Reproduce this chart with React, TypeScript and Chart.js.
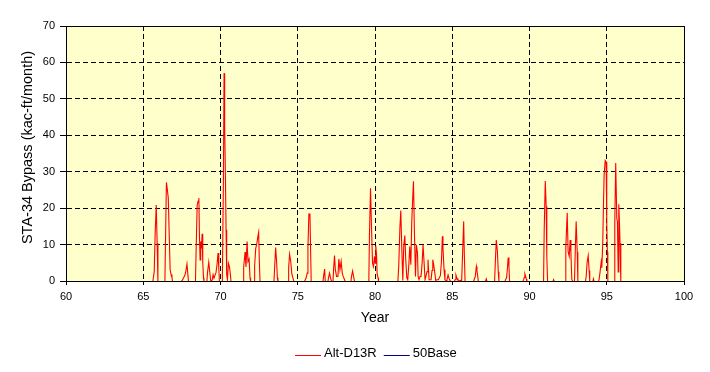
import { useEffect, useRef } from 'react';
import { Chart, registerables } from 'chart.js';

Chart.register(...registerables);

// ---- Data ----
const xTickValues = [60, 65, 70, 75, 80, 85, 90, 95, 100];
const yTickValues = [0, 10, 20, 30, 40, 50, 60, 70];

const seriesNames = ['Alt-D13R', '50Base'];
const seriesColors = ['#FF0000', '#000080'];
const xTitle = 'Year';
const yTitle = 'STA-34 Bypass (kac-ft/month)';

const altYears = [
  65.00, 65.62, 65.71, 65.77, 65.84, 65.90, 65.95,
  66.40, 66.45, 66.50, 66.55, 66.62, 66.68, 66.74, 66.80, 66.86, 66.90,
  67.47, 67.55, 67.62, 67.70, 67.76, 67.83, 67.88, 67.93,
  68.38, 68.43, 68.49, 68.55, 68.60, 68.64, 68.68, 68.72, 68.77, 68.81, 68.85, 68.90, 68.93,
  69.12, 69.16, 69.24, 69.31, 69.37, 69.46, 69.52, 69.58, 69.65, 69.71, 69.78, 69.84, 69.89, 69.93,
  70.12, 70.19, 70.23, 70.27, 70.32, 70.36, 70.40, 70.45, 70.51, 70.58, 70.64, 70.68,
  71.46, 71.50, 71.59, 71.65, 71.72, 71.78, 71.85, 71.91, 71.95,
  72.17, 72.21, 72.28, 72.34, 72.41, 72.47, 72.51, 72.56,
  73.46, 73.51, 73.57, 73.63, 73.68, 73.72,
  74.37, 74.41, 74.47, 74.54, 74.62, 74.69, 74.75,
  75.44, 75.55, 75.61, 75.66, 75.72, 75.79, 75.83, 75.87,
  76.63, 76.67, 76.74, 76.78, 76.95, 76.99, 77.06, 77.12, 77.19,
  77.28, 77.32, 77.38, 77.43, 77.51, 77.60, 77.66, 77.73, 77.81, 77.88, 77.94, 78.01, 78.07,
  78.44, 78.48, 78.55, 78.61, 78.68,
  79.60, 79.64, 79.71, 79.77, 79.84, 79.90, 79.97, 80.01, 80.05, 80.10, 80.14, 80.20, 80.23,
  81.48, 81.54, 81.61, 81.67, 81.73, 81.80, 81.86, 81.93, 81.99, 82.06,
  82.12, 82.19, 82.25, 82.32, 82.38, 82.45, 82.49, 82.55, 82.62, 82.68,
  82.75, 82.79, 82.85, 82.92, 82.98, 83.05, 83.11, 83.18, 83.24, 83.30,
  83.37, 83.43, 83.50, 83.56, 83.63, 83.69, 83.74, 83.80, 83.86, 83.93,
  84.01, 84.10, 84.17, 84.23, 84.30, 84.36, 84.40, 84.47, 84.53, 84.60,
  84.66, 84.73, 84.79, 84.86, 84.92,
  85.14, 85.18, 85.24, 85.31, 85.37, 85.46, 85.55, 85.61, 85.67, 85.74, 85.78, 85.83,
  86.39, 86.43, 86.49, 86.56, 86.60, 86.65, 86.69,
  87.15, 87.20, 87.25,
  87.74, 87.79, 87.85, 87.92, 87.98, 88.02,
  88.41, 88.45, 88.52, 88.58, 88.62, 88.67, 88.71,
  89.57, 89.62, 89.66, 89.70, 89.75, 89.79, 89.83,
  90.91, 90.95, 91.02, 91.08, 91.12, 91.17,
  91.52, 91.56, 91.60,
  92.31, 92.35, 92.44, 92.50, 92.57, 92.63, 92.68, 92.74, 92.81,
  92.91, 92.96, 93.02, 93.09, 93.13,
  93.62, 93.67, 93.73, 93.80, 93.86, 93.90,
  94.10, 94.14, 94.18,
  94.47, 94.51, 94.57, 94.64, 94.68, 94.74, 94.79, 94.83, 94.90, 94.96, 95.00, 95.04, 95.07,
  95.48, 95.52, 95.58, 95.65, 95.69, 95.74, 95.78, 95.82, 95.86, 95.91, 96.00,
];

const altValues = [
  0, 0, 2.7, 13, 21, 10.5, 0,
  0, 13.7, 27.2, 25.6, 22.9, 12.9, 3.3, 1.9, 1.0, 0,
  0, 0.5, 1.1, 1.8, 2.9, 4.8, 2.3, 0,
  0, 10.1, 21.0, 22.1, 22.9, 11.9, 5.9, 11.0, 9.1, 13.1, 5.5, 1.0, 0,
  0, 2.5, 5.3, 2.4, 0, 0.4, 1.9, 0.9, 1.8, 2.5, 4.8, 7.8, 3.7, 0,
  0, 28.4, 57.2, 42.5, 28.4, 14.2, 1.9, 0.5, 5.0, 4.0, 1.9, 0,
  0, 4.0, 8.1, 4.0, 11.0, 5.5, 6.2, 1.0, 0,
  0, 4.4, 9.1, 10.1, 12.1, 13.5, 6.0, 0,
  0, 4.4, 9.3, 5.5, 1.0, 0,
  0, 3.7, 7.5, 5.7, 2.0, 0.9, 0,
  0, 1.1, 2.3, 9.1, 18.5, 18.5, 9.1, 0,
  0, 1.4, 3.4, 0, 0, 1.0, 2.3, 1.0, 0,
  0, 3.4, 7.1, 3.4, 1.4, 1.4, 6.2, 3.2, 5.5, 2.3, 1.4, 0.7, 0,
  0, 1.4, 2.9, 1.4, 0,
  0, 12.5, 25.6, 15.6, 5.0, 4.1, 6.9, 5.0, 9.8, 7.3, 2.0, 1.0, 0,
  0, 4.6, 14.6, 19.5, 9.6, 0.3, 9.6, 12.6, 6.0, 1.0,
  0.5, 4.6, 9.6, 4.6, 16.5, 23.8, 27.5, 13.7, 1.4, 10.1,
  7.8, 1.4, 0.5, 1.4, 1.4, 5.0, 10.1, 5.0, 0.5, 0.5,
  2.7, 6.0, 0.5, 0.5, 0.5, 3.0, 6.0, 4.6, 2.7, 0.3,
  0.5, 0.5, 1.1, 1.6, 5.5, 12.4, 9.1, 3.2, 0.5, 0.2,
  0.5, 1.8, 0.9, 0.2, 0,
  0, 0.5, 1.8, 0.8, 0.3, 0.2, 0.3, 0.2, 7.8, 16.5, 7.8, 0,
  0, 0.7, 1.4, 4.1, 3.0, 1.4, 0,
  0, 0.7, 0,
  0, 5.5, 11.4, 8.4, 2.7, 0,
  0, 0.5, 1.1, 4.1, 6.6, 4.1, 0,
  0, 0.5, 1.1, 2.1, 1.4, 0.7, 0,
  0, 13.7, 27.6, 20.6, 6.9, 0,
  0, 0.5, 0,
  0, 9.3, 18.9, 8.2, 6.9, 11.4, 7.8, 0.5, 0,
  0, 8.0, 16.5, 8.0, 0,
  0, 1.4, 5.3, 7.1, 3.0, 0,
  0, 0.7, 0,
  0, 0.7, 2.7, 5.3, 3.8, 10.5, 21.5, 29.3, 33.2, 32.8, 16.5, 8.2, 0,
  0, 16.0, 32.5, 17.4, 16.5, 2.6, 21.2, 16.5, 10.5, 0, 0,
];

const baseYears = [65.0, 96.0];
const baseValues = [0, 0];

const FONT = '"Liberation Sans", Arial, sans-serif';

const bgPlugin = {
  id: 'plotBg',
  beforeDraw(chart: any) {
    const { ctx, chartArea } = chart;
    const { left, top, right, bottom } = chartArea;
    ctx.save();
    ctx.fillStyle = '#FFFFCC';
    ctx.fillRect(left, top, right - left, bottom - top);
    ctx.restore();
  },
};

// Shift series by half a pixel so zero values sit exactly on the axis row,
// then redraw the plot frame on top (the axis hides the zero line, as in Excel).
const framePlugin = {
  id: 'plotFrame',
  beforeDatasetsDraw(chart: any) {
    chart.ctx.save();
    chart.ctx.translate(0, 0.5);
  },
  afterDatasetsDraw(chart: any) {
    const { ctx, chartArea } = chart;
    ctx.restore();
    const { left, top, right, bottom } = chartArea;
    ctx.save();
    ctx.strokeStyle = '#000';
    ctx.lineWidth = 1;
    ctx.setLineDash([]);
    ctx.strokeRect(left + 0.5, top + 0.5, right - left, bottom - top);
    ctx.restore();
  },
};

const textPlugin = {
  id: 'extraText',
  afterDraw(chart: any) {
    const { ctx } = chart;
    ctx.save();
    ctx.fillStyle = '#000';
    ctx.font = `14.5px ${FONT}`;
    ctx.textAlign = 'center';
    ctx.textBaseline = 'middle';
    ctx.translate(27.5, 147.5);
    ctx.rotate(-Math.PI / 2);
    ctx.fillText(yTitle, 0, 0);
    ctx.restore();

    ctx.save();
    ctx.font = `13px ${FONT}`;
    ctx.textBaseline = 'middle';
    ctx.textAlign = 'left';
    const lineLen = 26;
    const gap = 3;
    const spacing = 7;
    const widths = seriesNames.map((n) => ctx.measureText(n).width);
    let total = 0;
    widths.forEach((w, i) => {
      total += lineLen + gap + w + (i < widths.length - 1 ? spacing : 0);
    });
    let x = Math.round(375.5 - total / 2);
    const yLine = 355.5;
    const yText = 353;
    seriesNames.forEach((n, i) => {
      ctx.strokeStyle = seriesColors[i];
      ctx.lineWidth = 1;
      ctx.beginPath();
      ctx.moveTo(x, yLine);
      ctx.lineTo(x + lineLen, yLine);
      ctx.stroke();
      x += lineLen + gap;
      ctx.fillStyle = '#000';
      ctx.fillText(n, x, yText);
      x += widths[i] + spacing;
    });
    ctx.restore();
  },
};

export default function App() {
  const canvasRef = useRef<HTMLCanvasElement | null>(null);

  useEffect(() => {
    const canvas = canvasRef.current;
    if (!canvas) return;
    const altData = altYears.map((x, i) => ({ x, y: altValues[i] }));
    const baseData = baseYears.map((x, i) => ({ x, y: baseValues[i] }));

    const chart = new Chart(canvas, {
      type: 'line',
      data: {
        datasets: [
          {
            label: seriesNames[0],
            data: altData,
            borderColor: seriesColors[0],
            backgroundColor: seriesColors[0],
            borderWidth: 1.1,
            pointRadius: 0,
            pointHoverRadius: 0,
            tension: 0,
            fill: false,
          },
          {
            label: seriesNames[1],
            data: baseData,
            borderColor: seriesColors[1],
            backgroundColor: seriesColors[1],
            borderWidth: 1,
            pointRadius: 0,
            pointHoverRadius: 0,
            tension: 0,
            fill: false,
          },
        ],
      },
      options: {
        responsive: false,
        animation: false,
        devicePixelRatio: 1,
        events: [],
        layout: { padding: { top: 26, right: 26, left: 0, bottom: 0 } },
        plugins: {
          legend: { display: false },
          tooltip: { enabled: false },
          title: { display: false },
        },
        scales: {
          x: {
            type: 'linear',
            min: 60,
            max: 100,
            afterBuildTicks: (s: any) => {
              s.ticks = xTickValues.map((v) => ({ value: v }));
            },
            afterFit: (s: any) => {
              s.height = 91;
            },
            ticks: {
              color: '#000',
              font: { family: FONT, size: 11 },
              padding: 5,
              maxRotation: 0,
              autoSkip: false,
            },
            grid: {
              color: '#000',
              lineWidth: 1,
              drawTicks: true,
              tickLength: 4,
              tickColor: '#000',
              tickBorderDash: [],
            },
            border: { display: true, color: '#000', dash: [5, 3] },
            title: {
              display: true,
              text: xTitle,
              color: '#000',
              font: { family: FONT, size: 14 },
              padding: { top: 0, bottom: 45.6 },
            },
          },
          y: {
            type: 'linear',
            min: 0,
            max: 70,
            afterBuildTicks: (s: any) => {
              s.ticks = yTickValues.map((v) => ({ value: v }));
            },
            afterFit: (s: any) => {
              s.width = 66;
            },
            ticks: {
              color: '#000',
              font: { family: FONT, size: 11 },
              padding: 5,
            },
            grid: {
              color: '#000',
              lineWidth: 1,
              drawTicks: true,
              tickLength: 6,
              tickColor: '#000',
              tickBorderDash: [],
            },
            border: { display: true, color: '#000', dash: [5, 3] },
            title: { display: false },
          },
        },
      },
      plugins: [bgPlugin, framePlugin, textPlugin],
    });

    return () => {
      chart.destroy();
    };
  }, []);

  return (
    <div style={{ position: 'fixed', left: 0, top: 0, width: 710, height: 372, background: '#fff' }}>
      <canvas ref={canvasRef} width={710} height={372} style={{ display: 'block', width: 710, height: 372 }} />
    </div>
  );
}
